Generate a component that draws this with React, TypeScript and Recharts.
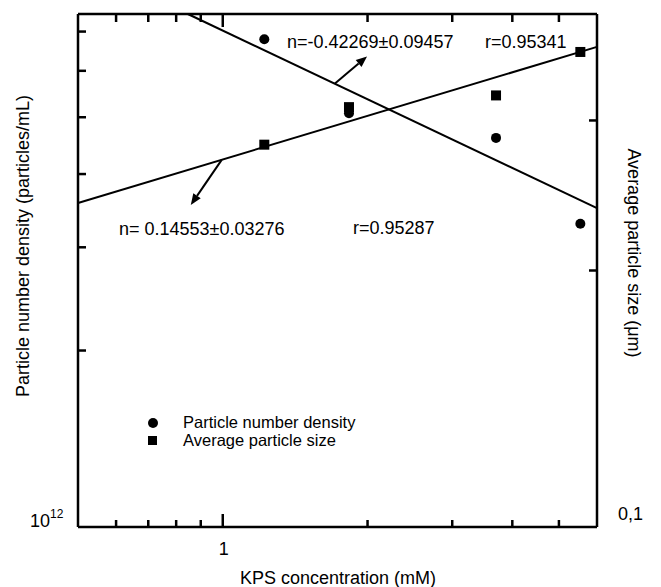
import { ComposedChart, ReferenceLine, Scatter, XAxis, YAxis } from 'recharts';

// KPS concentration (mM) for the four recipes
const kpsConc = [1.22, 1.83, 3.7, 5.54];
// particles/mL (left axis)
const numberDensity = [6.79e12, 5.08e12, 4.61e12, 3.29e12];
// um (right axis)
const particleSize = [0.281, 0.311, 0.321, 0.361];

// fitted lines, end points
const densityFitX = [0.846, 6];
const densityFitY = [7.5e12, 3.5e12];
const sizeFitX = [0.5, 6];
const sizeFitY = [0.24, 0.366];

// arrows pointing from the fit lines to their labels
const densityArrowX = [1.711, 1.995];
const densityArrowY = [5.71e12, 6.35e12];
const sizeArrowX = [0.995, 0.858];
const sizeArrowY = [0.2697, 0.2388];

const xTicks = [0.6, 0.7, 0.8, 0.9, 1, 2, 3, 4, 5];
const leftTicks = [1e12, 2e12, 3e12, 4e12, 5e12, 6e12, 7e12];
const rightTicks = [0.1, 0.2, 0.3];

const FONT = "'Liberation Sans', Arial, Helvetica, sans-serif";

const densityData = kpsConc.map((x, i) => ({ x, y: numberDensity[i] }));
const sizeData = kpsConc.map((x, i) => ({ x, y: particleSize[i] }));

const CircleDot = (p: any) => <circle cx={p.cx} cy={p.cy} r={5} fill="#000" />;
const SquareDot = (p: any) => <rect x={p.cx - 5} y={p.cy - 5} width={10} height={10} fill="#000" />;

const BottomTick = (p: any) => {
  const major = Math.abs(p.payload.value - 1) < 1e-9;
  return (
    <g>
      <line x1={p.x} y1={p.y} x2={p.x} y2={p.y - (major ? 13 : 7)} stroke="#000" strokeWidth={2.5} />
      {major && (
        <text x={p.x + 1} y={p.y + 28} textAnchor="middle" fontSize={18} fill="#000" fontFamily={FONT}>
          1
        </text>
      )}
    </g>
  );
};

const TopTick = (p: any) => {
  const major = Math.abs(p.payload.value - 1) < 1e-9;
  return <line x1={p.x} y1={p.y} x2={p.x} y2={p.y + (major ? 13 : 8)} stroke="#000" strokeWidth={2.5} />;
};

const LeftTick = (p: any) => {
  const first = p.index === 0;
  return (
    <g>
      {!first && <line x1={p.x} y1={p.y} x2={p.x + 8} y2={p.y} stroke="#000" strokeWidth={2.5} />}
      {first && (
        <text x={p.x - 48} y={p.y} fontSize={18} fill="#000" fontFamily={FONT}>
          10
          <tspan fontSize={12} dy={-9}>
            12
          </tspan>
        </text>
      )}
    </g>
  );
};

const RightTick = (p: any) => {
  const first = p.index === 0;
  return (
    <g>
      {!first && <line x1={p.x} y1={p.y} x2={p.x - 8} y2={p.y} stroke="#000" strokeWidth={2.5} />}
      {first && (
        <text x={p.x + 21} y={p.y - 7} fontSize={18} fill="#000" fontFamily={FONT}>
          0,1
        </text>
      )}
    </g>
  );
};

const Arrow = (p: any) => {
  const { x1, y1, x2, y2 } = p;
  const a = Math.atan2(y2 - y1, x2 - x1);
  const len = 11;
  const w = 4.5;
  const bx = x2 - len * Math.cos(a);
  const by = y2 - len * Math.sin(a);
  const nx = -Math.sin(a) * w;
  const ny = Math.cos(a) * w;
  return (
    <g>
      <line x1={x1} y1={y1} x2={bx} y2={by} stroke="#000" strokeWidth={2} />
      <polygon points={`${x2},${y2} ${bx + nx},${by + ny} ${bx - nx},${by - ny}`} fill="#000" />
    </g>
  );
};

export default function App() {
  return (
    <div style={{ position: 'absolute', left: 0, top: 0, width: 661, height: 587, background: '#fff' }}>
      <ComposedChart
        width={661}
        height={587}
        margin={{ top: 4, right: 24, bottom: 30, left: 18 }}
        style={{ fontFamily: FONT }}
      >
        <XAxis
          dataKey="x"
          type="number"
          scale="log"
          domain={[0.5, 6]}
          allowDataOverflow
          ticks={xTicks}
          interval={0}
          height={30}
          tickSize={0}
          tickMargin={0}
          tickLine={false}
          tick={BottomTick}
          axisLine={{ stroke: '#000', strokeWidth: 2.5 }}
        />
        <XAxis
          xAxisId="top"
          orientation="top"
          dataKey="x"
          type="number"
          scale="log"
          domain={[0.5, 6]}
          allowDataOverflow
          ticks={xTicks}
          interval={0}
          height={10}
          tickSize={0}
          tickMargin={0}
          tickLine={false}
          tick={TopTick}
          axisLine={{ stroke: '#000', strokeWidth: 2.5 }}
        />
        <YAxis
          yAxisId="left"
          dataKey="y"
          type="number"
          scale="log"
          domain={[1e12, 7.5e12]}
          allowDataOverflow
          ticks={leftTicks}
          interval={0}
          width={60}
          tickSize={0}
          tickMargin={0}
          tickLine={false}
          tick={LeftTick}
          axisLine={{ stroke: '#000', strokeWidth: 2.5 }}
        />
        <YAxis
          yAxisId="right"
          orientation="right"
          dataKey="y"
          type="number"
          scale="log"
          domain={[0.1, 0.4]}
          allowDataOverflow
          ticks={rightTicks}
          interval={0}
          width={40}
          tickSize={0}
          tickMargin={0}
          tickLine={false}
          tick={RightTick}
          axisLine={{ stroke: '#000', strokeWidth: 2.5 }}
        />
        <ReferenceLine
          yAxisId="left"
          ifOverflow="visible"
          segment={[
            { x: densityFitX[0], y: densityFitY[0] },
            { x: densityFitX[1], y: densityFitY[1] },
          ]}
          stroke="#000"
          strokeWidth={2}
        />
        <ReferenceLine
          yAxisId="right"
          ifOverflow="visible"
          segment={[
            { x: sizeFitX[0], y: sizeFitY[0] },
            { x: sizeFitX[1], y: sizeFitY[1] },
          ]}
          stroke="#000"
          strokeWidth={2}
        />
        <ReferenceLine
          yAxisId="left"
          ifOverflow="visible"
          segment={[
            { x: densityArrowX[0], y: densityArrowY[0] },
            { x: densityArrowX[1], y: densityArrowY[1] },
          ]}
          shape={Arrow}
        />
        <ReferenceLine
          yAxisId="right"
          ifOverflow="visible"
          segment={[
            { x: sizeArrowX[0], y: sizeArrowY[0] },
            { x: sizeArrowX[1], y: sizeArrowY[1] },
          ]}
          shape={Arrow}
        />
        <Scatter data={densityData} yAxisId="left" shape={CircleDot} isAnimationActive={false} />
        <Scatter data={sizeData} yAxisId="right" shape={SquareDot} isAnimationActive={false} />
      </ComposedChart>
      <svg
        width={661}
        height={587}
        style={{ position: 'absolute', left: 0, top: 0, pointerEvents: 'none' }}
        fontFamily={FONT}
        fontSize={18}
        fill="#000"
      >
        <text x={287} y={48}>n=-0.42269±0.09457</text>
        <text x={485} y={48}>r=0.95341</text>
        <text x={119} y={235}>n= 0.14553±0.03276</text>
        <text x={353} y={234}>r=0.95287</text>

        <circle cx={153} cy={423} r={5} />
        <rect x={148} y={436} width={9} height={9} />
        <text x={183} y={428} fontSize={16.5}>Particle number density</text>
        <text x={183} y={446} fontSize={16.5}>Average particle size</text>

        <text x={338} y={584} textAnchor="middle">
          KPS concentration (mM)
        </text>
        <text
          x={23}
          y={246}
          textAnchor="middle"
          dominantBaseline="central"
          transform="rotate(-90 23 246)"
        >
          Particle number density (particles/mL)
        </text>
        <text
          x={634}
          y={253}
          textAnchor="middle"
          dominantBaseline="central"
          transform="rotate(90 634 253)"
        >
          Average particle size (μm)
        </text>
      </svg>
    </div>
  );
}
